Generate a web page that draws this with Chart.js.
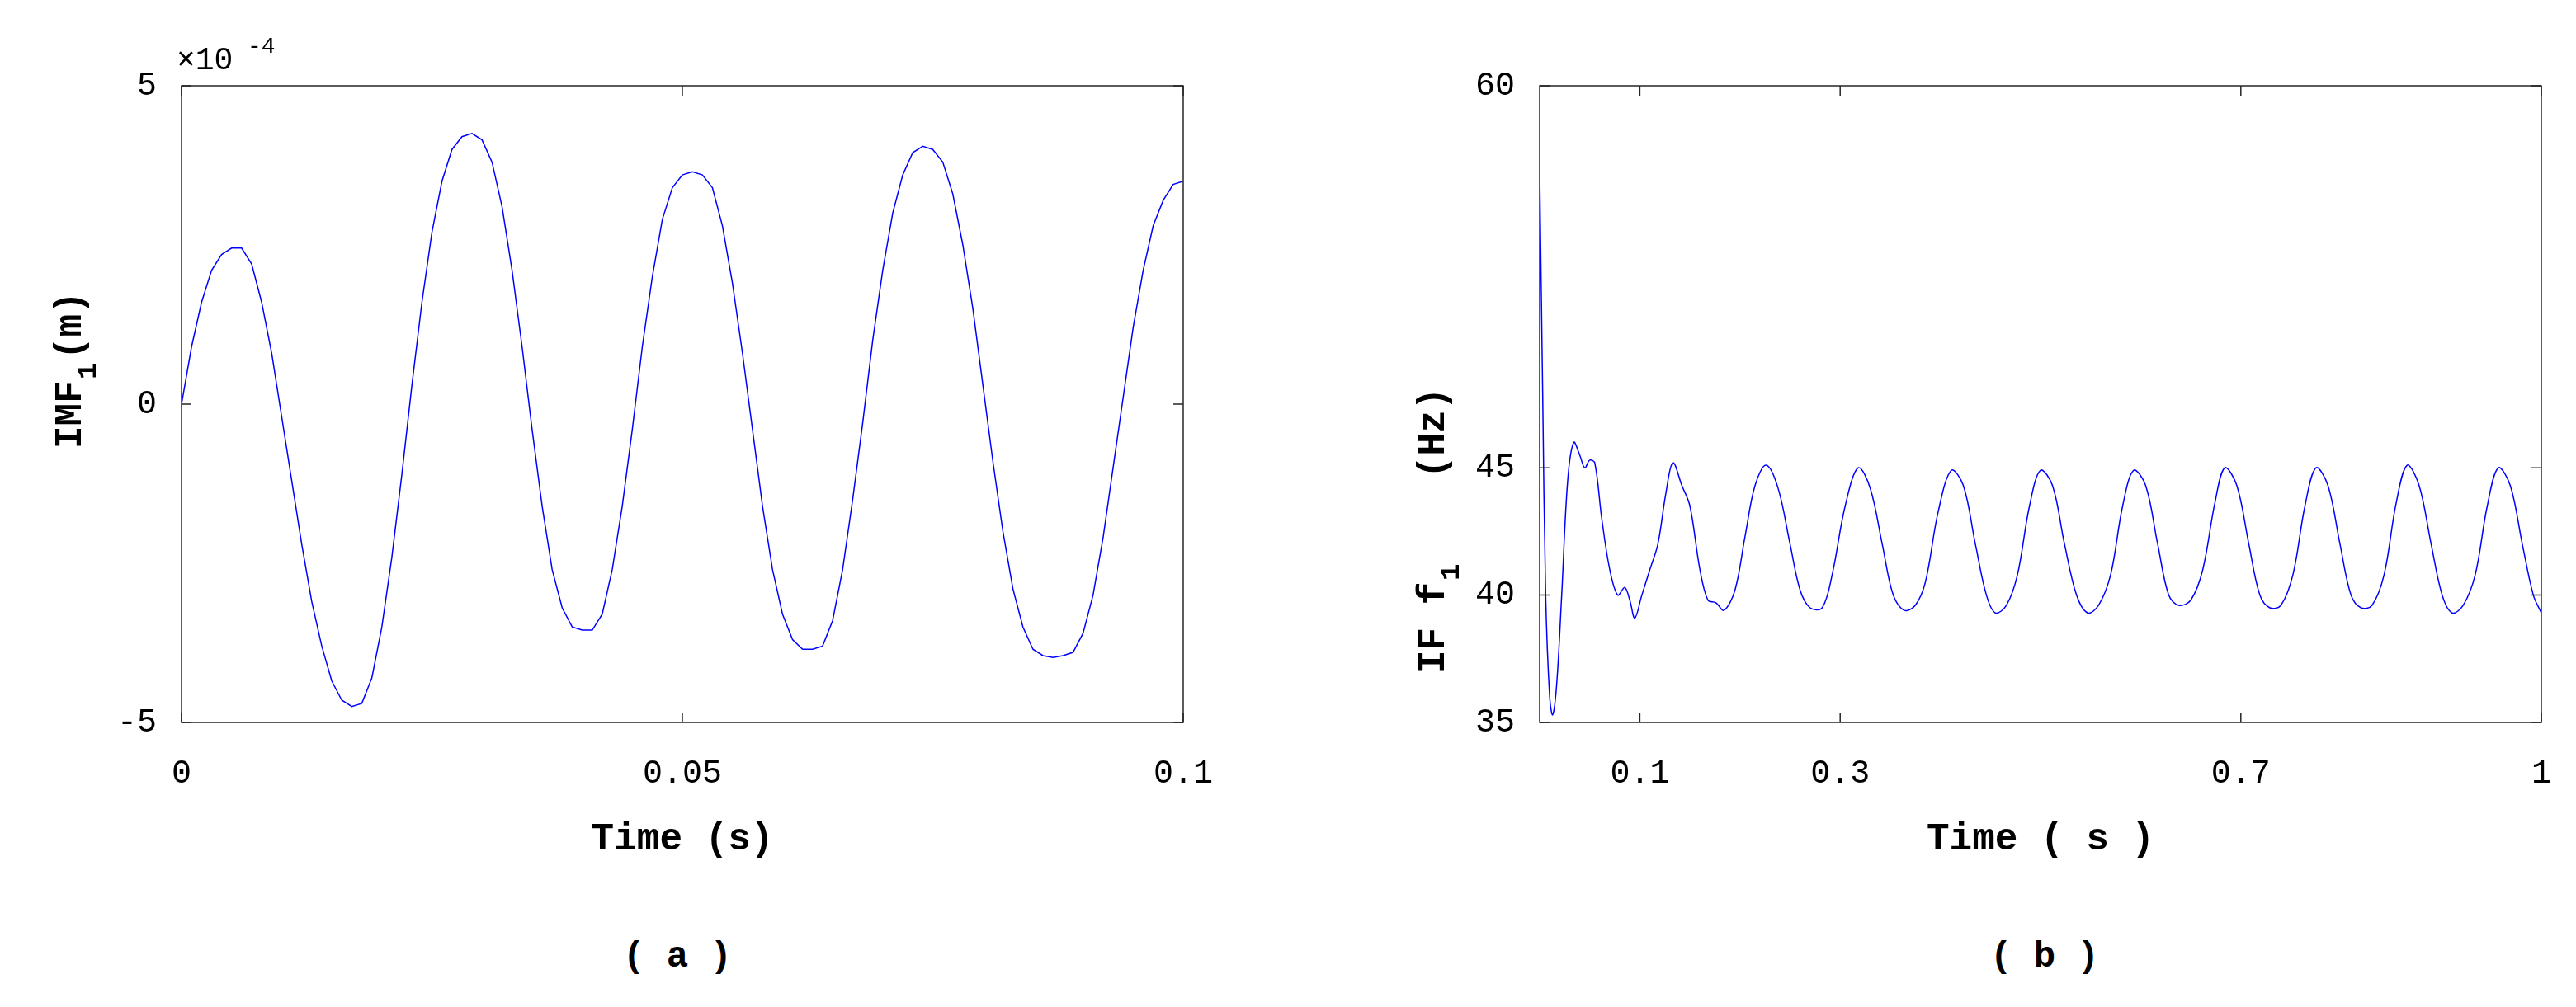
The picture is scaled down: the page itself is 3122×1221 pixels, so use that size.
<!DOCTYPE html>
<html><head><meta charset="utf-8">
<script src="https://cdn.jsdelivr.net/npm/chart.js@4"></script>
<style>body{margin:0;background:#fff;width:3122px;height:1221px;position:relative;overflow:hidden}
canvas{position:absolute}
.cap{position:absolute;font:bold 44px "Liberation Mono",monospace;top:1135px;white-space:pre}
</style></head><body>
<canvas id="ca" style="left:0;top:0"></canvas>
<canvas id="cb" style="left:1561px;top:0"></canvas>
<div class="cap" style="left:755px">( a )</div>
<div class="cap" style="left:2412px">( b )</div>
<script>
const timeA=[];for(let i=0;i<=100;i++)timeA.push(i/1000);
const imf1=[0,0.9,1.6,2.1,2.35,2.45,2.45,2.2,1.6,0.8,-0.2,-1.2,-2.2,-3.1,-3.8,-4.35,-4.65,-4.75,-4.7,-4.3,-3.5,-2.4,-1.1,0.3,1.6,2.7,3.5,4.0,4.2,4.25,4.15,3.8,3.1,2.1,0.9,-0.4,-1.6,-2.6,-3.2,-3.5,-3.55,-3.55,-3.3,-2.6,-1.6,-0.4,0.9,2.0,2.9,3.4,3.6,3.65,3.6,3.4,2.8,1.9,0.8,-0.4,-1.6,-2.6,-3.3,-3.7,-3.85,-3.85,-3.8,-3.4,-2.6,-1.5,-0.3,1.0,2.1,3.0,3.6,3.95,4.05,4.0,3.8,3.3,2.5,1.5,0.3,-0.9,-2.0,-2.9,-3.5,-3.85,-3.95,-3.98,-3.95,-3.9,-3.6,-3.0,-2.1,-1.0,0.1,1.2,2.1,2.8,3.2,3.45,3.5];
const timeB=[0,0.003,0.006,0.010,0.013,0.017,0.022,0.028,0.034,0.040,0.045,0.050,0.055,0.062,0.070,0.078,0.085,0.090,0.095,0.102,0.110,0.118,0.126,0.133,0.142,0.150,0.160,0.168,0.176,0.184,0.195,0.205,0.215,0.226,0.238,0.250,0.260,0.270,0.282,0.292,0.305,0.318,0.330,0.342,0.353,0.364,0.375,0.385,0.398,0.411,0.423,0.435,0.446,0.455,0.466,0.477,0.489,0.500,0.512,0.524,0.536,0.547,0.558,0.570,0.582,0.593,0.605,0.617,0.628,0.638,0.650,0.662,0.674,0.684,0.696,0.708,0.719,0.729,0.740,0.752,0.764,0.775,0.787,0.799,0.810,0.820,0.831,0.843,0.855,0.866,0.878,0.890,0.901,0.911,0.922,0.934,0.946,0.957,0.969,0.981,0.992,1.0];
const ifF1=[56.7,48,40,36,35.3,36.5,40,44.5,46,45.5,45,45.3,45.2,43,41,40,40.3,39.8,39.1,40,41,42,44,45.2,44.3,43.5,41,39.8,39.7,39.4,40.2,42.3,44.3,45.1,44.2,42,40.2,39.5,39.5,40.8,43.5,45,44.2,42,40,39.4,39.6,40.5,43.3,44.9,44.3,42,40,39.3,39.6,40.8,43.5,44.9,44.3,42,40,39.3,39.6,40.8,43.5,44.9,44.3,42,40,39.6,39.8,41,43.6,45,44.3,42,40,39.5,39.6,40.8,43.5,45,44.3,42,40,39.5,39.6,40.8,43.6,45.1,44.3,42,40,39.3,39.6,40.8,43.5,45,44.3,42,40,39.3];
const xTicksA=[0,0.05,0.1], yTicksA=[-5,0,5];
const xTicksB=[0.1,0.3,0.7,1], yTicksB=[35,40,45,60];

const TF='"Liberation Mono", monospace';
function frame(titles){return{id:'frame',afterDraw(c){
  const g=c.ctx,a=c.chartArea,xs=c.scales.x,ys=c.scales.y;
  g.save();g.strokeStyle='#262626';g.lineWidth=1.5;
  g.strokeRect(a.left,a.top,a.right-a.left,a.bottom-a.top);
  g.beginPath();
  xs.ticks.forEach(t=>{const p=xs.getPixelForValue(t.value);g.moveTo(p,a.bottom);g.lineTo(p,a.bottom-12);g.moveTo(p,a.top);g.lineTo(p,a.top+12);});
  ys.ticks.forEach(t=>{const p=ys.getPixelForValue(t.value);g.moveTo(a.left,p);g.lineTo(a.left+12,p);g.moveTo(a.right,p);g.lineTo(a.right-12,p);});
  g.stroke();g.fillStyle='#000';titles(g,a);g.restore();}}}
function mk(id,w,h,pad,xd,yd,xt,yt,ymin,ymax,xmin,xmax,tens,titles){
  const cv=document.getElementById(id);cv.width=w;cv.height=h;cv.style.width=w+'px';cv.style.height=h+'px';
  new Chart(cv,{type:'line',data:{labels:xd,datasets:[{data:yd.map((v,i)=>({x:xd[i],y:v})),borderColor:'#0000ff',borderWidth:1.5,pointRadius:0,tension:tens}]},
  options:{responsive:false,animation:false,devicePixelRatio:1,layout:{padding:pad},plugins:{legend:{display:false},tooltip:{enabled:false}},
  scales:{x:{type:'linear',min:xmin,max:xmax,afterBuildTicks:s=>{s.ticks=xt.map(v=>({value:v}))},afterFit:s=>{s.height=224},grid:{display:false},border:{display:false},
   ticks:{color:'#000',font:{family:TF,size:40},padding:30,maxRotation:0,callback:v=>String(v)}},
   y:{min:ymin,max:ymax,afterBuildTicks:s=>{s.ticks=yt.map(v=>({value:v}))},afterFit:s=>{s.width=pad.yw},grid:{display:false},border:{display:false},
   ticks:{color:'#000',font:{family:TF,size:40},padding:22,callback:v=>String(v)}}}},plugins:[frame(titles)]});
}
mk('ca',1500,1100,{left:0,right:56,top:104,bottom:0,yw:220},timeA,imf1,xTicksA,yTicksA,-5,5,0,0.1,0,(g,a)=>{
  g.font='bold 46px '+TF;g.textAlign='center';g.fillText('Time (s)',(a.left+a.right)/2,1030);
  g.font='38px '+TF;g.textAlign='left';g.fillText('×10',214,84);g.font='28px '+TF;g.fillText('-4',300,64);
  g.save();g.translate(98,544);g.rotate(-Math.PI/2);g.font='bold 46px '+TF;g.textAlign='left';
  g.fillText('IMF',0,0);g.font='bold 34px '+TF;g.fillText('1',84,18);g.font='bold 46px '+TF;g.fillText('(m)',108,0);g.restore();
});
mk('cb',1561,1100,{left:0,right:24,top:104,bottom:0,yw:305},timeB,ifF1,xTicksB,yTicksB,35,60,0,1,0.35,(g,a)=>{
  g.font='bold 46px '+TF;g.textAlign='center';g.fillText('Time ( s )',(a.left+a.right)/2,1030);
  g.save();g.translate(189,816);g.rotate(-Math.PI/2);g.font='bold 46px '+TF;g.textAlign='left';
  g.fillText('IF f',0,0);g.font='bold 34px '+TF;g.fillText('1',112,18);g.font='bold 46px '+TF;g.fillText('(Hz)',236,0);g.restore();
});
</script></body></html>
